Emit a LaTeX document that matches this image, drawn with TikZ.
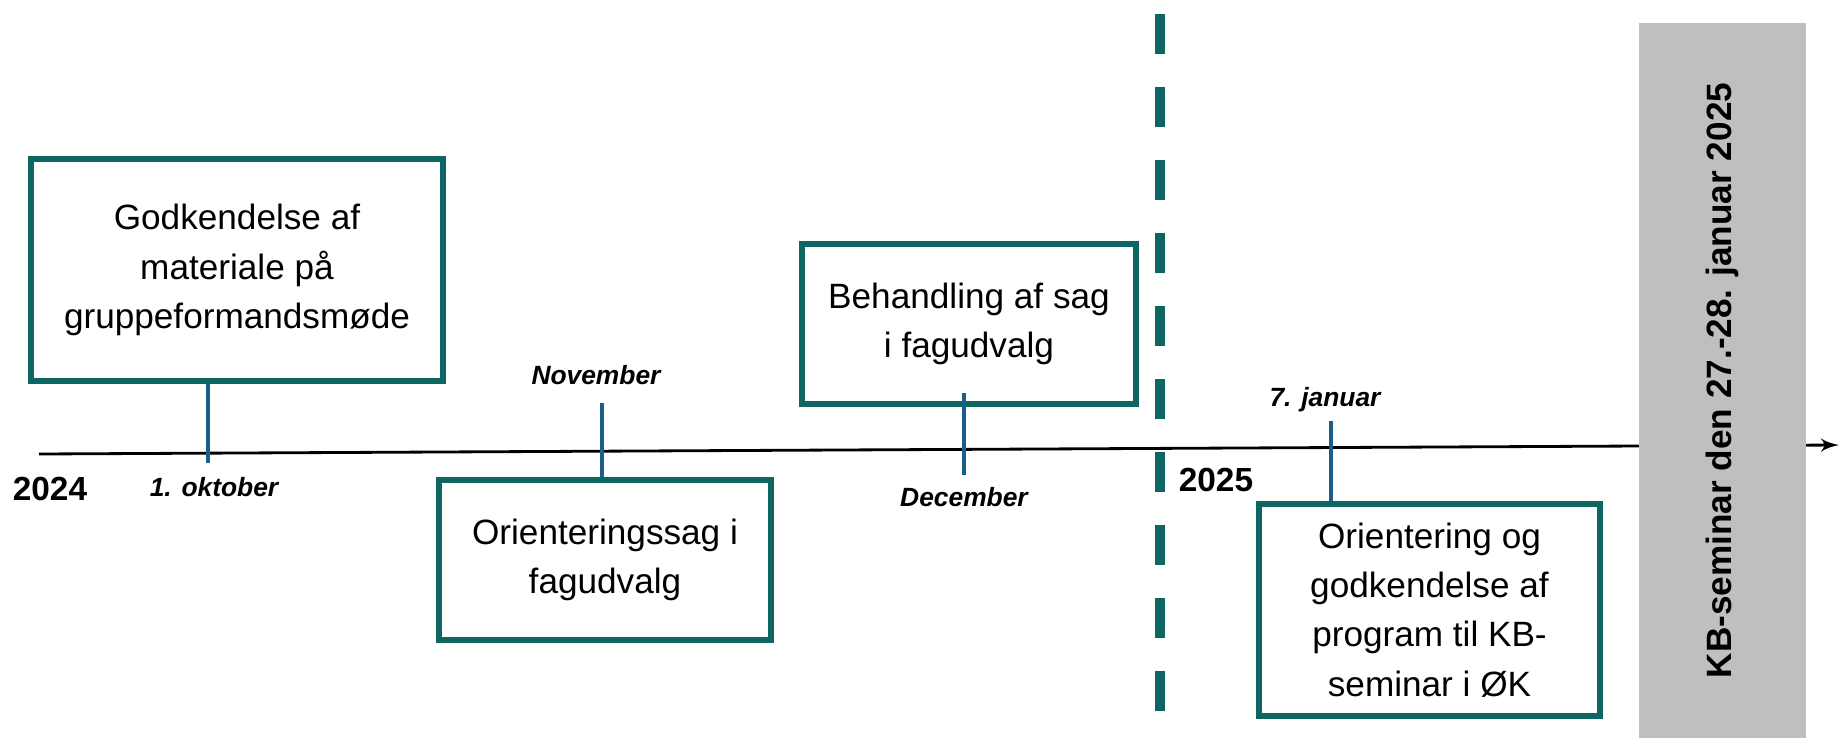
\documentclass[tikz,border=0pt]{standalone}
\usepackage{fontspec}
\setmainfont{Liberation Sans}
\usepackage{tikz}
\usetikzlibrary{arrows,calc,positioning}

\definecolor{boxgreen}{RGB}{14,102,98}
\definecolor{tickblue}{RGB}{27,94,135}
\definecolor{seminargray}{RGB}{191,191,191}

\begin{document}
\begin{tikzpicture}[x=0.01cm,y=0.01cm,>=latex']
	\tikzstyle{block} = [draw=boxgreen, line width=1.7pt, rectangle, align=center, inner sep=0pt, font=\fontsize{10}{14}\selectfont]
	\tikzstyle{tick} = [draw=tickblue, line width=1.2pt]
	\tikzstyle{date} = [inner sep=0pt, font=\fontsize{7.5}{9}\selectfont\bfseries\itshape]
	\tikzstyle{year} = [inner sep=0pt, font=\fontsize{9.5}{11}\selectfont\bfseries]
	
	\useasboundingbox (0,0) rectangle (1841,738);
	
	% tidslinje
	\node [coordinate] (start) at (39,284) {};
	\node [coordinate] (end) at (1839,293) {};
	\draw [->, line width=0.8pt] (start) -- (end);
	
	% skillelinje mellem aarene
	\node [coordinate] (divtop) at (1160,724) {};
	\node [coordinate] (divbot) at (1160,20) {};
	\draw [boxgreen, line width=2.6pt, dash pattern=on 0.4cm off 0.33cm] (divtop) -- (divbot);
	
	\node [fill=seminargray, rotate=90, minimum width=7.15cm, minimum height=1.67cm, inner sep=0pt, font=\fontsize{10}{12}\selectfont\bfseries] (seminar) at (1722.5,357.5) {KB-seminar den 27.-28. januar 2025};
	
	\node [block, minimum width=4.12cm, minimum height=2.22cm] (godk) at (237,468) {Godkendelse af\\materiale p\aa\\gruppeformandsm\o de};
	\node [block, minimum width=3.32cm, minimum height=1.60cm] (orient) at (605,178) {Orienteringssag i\\fagudvalg};
	\node [block, minimum width=3.34cm, minimum height=1.60cm] (behand) at (969,414) {Behandling af sag\\i fagudvalg};
	\node [block, minimum width=3.41cm, minimum height=2.12cm] (progr) at (1429.5,128) {Orientering og\\godkendelse af\\program til KB-\\seminar i \O K};
	
	\node [coordinate] (c1) at (208,275) {};
	\node [coordinate] (c2) at (602,335) {};
	\node [coordinate] (c3) at (964,263) {};
	\node [coordinate] (c3top) at (964,345) {};
	\node [coordinate] (c4) at (1331,317) {};
	
	\node [date, below = 0.14cm of c1, xshift=0.06cm] (okt) {1. oktober};
	\node [date, above = 0.18cm of c2, xshift=-0.06cm] (nov) {November};
	\node [date, below = 0.12cm of c3] (dec) {December};
	\node [date, above = 0.08cm of c4, xshift=-0.06cm] (jan) {7. januar};
	
	\node [year] (y2024) at (50,249) {2024};
	\node [year] (y2025) at (1216,258) {2025};
	
	\draw [tick] (c1 |- godk.south) -- (c1);
	\draw [tick] (c2) -- (c2 |- orient.north);
	\draw [tick] (c3top) -- (c3);
	\draw [tick] (c4) -- (c4 |- progr.north);
	
\end{tikzpicture}
\end{document}
